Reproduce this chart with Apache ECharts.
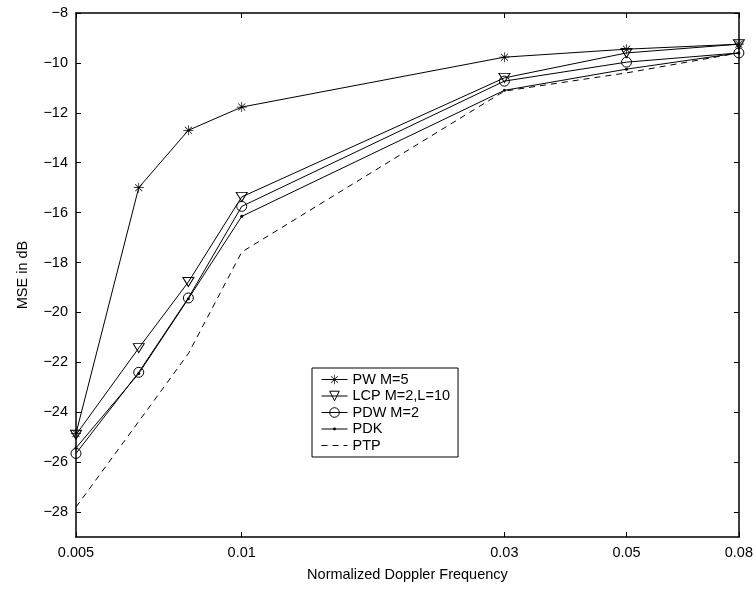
<!DOCTYPE html>
<html>
<head>
<meta charset="utf-8">
<script src="https://cdn.jsdelivr.net/npm/echarts@6/dist/echarts.min.js"></script>
<style>
  html, body { margin: 0; padding: 0; background: #fff; }
  #chart { width: 756px; height: 590px; }
</style>
</head>
<body>
<div id="chart"></div>
<script>
// Normalized Doppler frequencies (x, log scale)
const freq = [0.005, 0.0065, 0.008, 0.01, 0.03, 0.05, 0.08];
// MSE in dB for each estimator
const pwM5 = [-24.85, -15.0, -12.7, -11.77, -9.77, -9.45, -9.25];
const lcpM2L10 = [-24.9, -21.43, -18.78, -15.37, -10.6, -9.6, -9.25];
const pdwM2 = [-25.65, -22.4, -19.42, -15.75, -10.73, -9.97, -9.6];
const pdk = [-25.43, -22.45, -19.45, -16.15, -11.1, -10.25, -9.6];
const ptp = [-27.8, -24.37, -21.65, -17.58, -11.13, -10.4, -9.6];

// Tick labels
const xTicks = [0.005, 0.01, 0.03, 0.05, 0.08];
const yTicks = [-28, -26, -24, -22, -20, -18, -16, -14, -12, -10, -8];

const FONT = 'Liberation Sans';
const FS = 14.5;

// eight-ray asterisk marker
const STAR = 'path://M9.3,0 L10.7,0 L10.7,20 L9.3,20 Z M0,9.3 L20,9.3 L20,10.7 L0,10.7 Z M3.5,2.5 L17.5,16.5 L16.5,17.5 L2.5,3.5 Z M16.5,2.5 L17.5,3.5 L3.5,17.5 L2.5,16.5 Z';
// small dot centred in a 10x10 box (the corner points fix the box size)
const DOT = 'path://M0,0 L0,0 M10,10 L10,10 M3.5,5 A1.5,1.5 0 1 1 6.5,5 A1.5,1.5 0 1 1 3.5,5 Z';

const pairs = ys => freq.map((f, i) => [f, ys[i]]);
const minus = v => String(v).replace('-', '\u2212');
const logTicks = xTicks.map(v => Math.log10(v));
const xLo = Math.log10(freq[0]);
const xHi = Math.log10(freq[freq.length - 1]);

const lineBase = { color: '#000', width: 1 };
const hollow = { color: 'rgba(0,0,0,0)', borderColor: '#000', borderWidth: 1 };
const solidMark = { color: '#000', borderWidth: 0 };
const noMark = { color: 'rgba(0,0,0,0)', borderColor: 'rgba(0,0,0,0)', borderWidth: 0 };

const chart = echarts.init(document.getElementById('chart'), null, { renderer: 'canvas' });
chart.setOption({
  backgroundColor: '#fff',
  animation: false,
  textStyle: { fontFamily: FONT },
  grid: { left: 76, right: 16, top: 13, bottom: 53 },
  legend: {
    orient: 'vertical',
    left: 312,
    top: 368,
    padding: [4, 8, 4, 9],
    itemGap: 1.5,
    itemWidth: 26,
    itemHeight: 12,
    borderColor: '#000',
    borderWidth: 1,
    backgroundColor: '#fff',
    lineStyle: { width: 1, color: '#000' },
    textStyle: { fontFamily: FONT, fontSize: FS, color: '#000' },
    data: [
      { name: 'PW M=5', itemStyle: solidMark },
      { name: 'LCP M=2,L=10', itemStyle: hollow },
      { name: 'PDW M=2', itemStyle: hollow },
      { name: 'PDK', itemStyle: solidMark },
      { name: 'PTP', itemStyle: noMark }
    ]
  },
  xAxis: [
    {
      // log-scaled axis that places the data
      type: 'log',
      min: freq[0],
      max: freq[freq.length - 1],
      position: 'bottom',
      axisLine: { lineStyle: { color: '#000', width: 1.5 } },
      axisTick: { show: false },
      axisLabel: { show: false },
      splitLine: { show: false },
      minorTick: { show: false }
    },
    {
      // tick marks and labels on the same log positions
      type: 'value',
      min: xLo,
      max: xHi,
      position: 'bottom',
      axisLine: { show: false },
      axisTick: { show: true, inside: true, length: 5, customValues: logTicks, lineStyle: { color: '#000', width: 1 } },
      axisLabel: {
        show: true, customValues: logTicks, margin: 8,
        color: '#000', fontFamily: FONT, fontSize: FS,
        formatter: v => String(parseFloat(Math.pow(10, v).toPrecision(2)))
      },
      splitLine: { show: false },
      name: 'Normalized Doppler Frequency',
      nameLocation: 'middle',
      nameGap: 30,
      nameTextStyle: { color: '#000', fontFamily: FONT, fontSize: FS }
    },
    {
      type: 'value',
      min: xLo,
      max: xHi,
      position: 'top',
      axisLine: { show: true, lineStyle: { color: '#000', width: 1.5 } },
      axisTick: { show: true, inside: true, length: 5, customValues: logTicks, lineStyle: { color: '#000', width: 1 } },
      axisLabel: { show: false },
      splitLine: { show: false }
    }
  ],
  yAxis: [
    {
      type: 'value',
      min: -29,
      max: -8,
      position: 'left',
      axisLine: { show: true, lineStyle: { color: '#000', width: 1.5 } },
      axisTick: { show: true, inside: true, length: 5, customValues: yTicks, lineStyle: { color: '#000', width: 1 } },
      axisLabel: {
        show: true, customValues: yTicks, margin: 8,
        color: '#000', fontFamily: FONT, fontSize: FS,
        formatter: minus
      },
      splitLine: { show: false },
      name: 'MSE in dB',
      nameLocation: 'middle',
      nameGap: 46,
      nameTextStyle: { color: '#000', fontFamily: FONT, fontSize: FS }
    },
    {
      type: 'value',
      min: -29,
      max: -8,
      position: 'right',
      axisLine: { show: true, lineStyle: { color: '#000', width: 1.5 } },
      axisTick: { show: true, inside: true, length: 5, customValues: yTicks, lineStyle: { color: '#000', width: 1 } },
      axisLabel: { show: false },
      splitLine: { show: false }
    }
  ],
  series: [
    {
      name: 'PW M=5', type: 'line', xAxisIndex: 0, yAxisIndex: 0,
      data: pairs(pwM5),
      symbol: STAR, symbolSize: 10,
      lineStyle: lineBase,
      itemStyle: solidMark
    },
    {
      name: 'LCP M=2,L=10', type: 'line', xAxisIndex: 0, yAxisIndex: 0,
      data: pairs(lcpM2L10),
      symbol: 'triangle', symbolRotate: 180, symbolSize: [11, 9],
      lineStyle: lineBase,
      itemStyle: hollow
    },
    {
      name: 'PDW M=2', type: 'line', xAxisIndex: 0, yAxisIndex: 0,
      data: pairs(pdwM2),
      symbol: 'circle', symbolSize: 10,
      lineStyle: lineBase,
      itemStyle: hollow
    },
    {
      name: 'PDK', type: 'line', xAxisIndex: 0, yAxisIndex: 0,
      data: pairs(pdk),
      symbol: DOT, symbolSize: 10,
      lineStyle: lineBase,
      itemStyle: solidMark
    },
    {
      name: 'PTP', type: 'line', xAxisIndex: 0, yAxisIndex: 0,
      data: pairs(ptp),
      symbol: 'none',
      lineStyle: { color: '#000', width: 1, type: [6, 5] },
      itemStyle: { color: '#000' }
    }
  ]
});
</script>
</body>
</html>
